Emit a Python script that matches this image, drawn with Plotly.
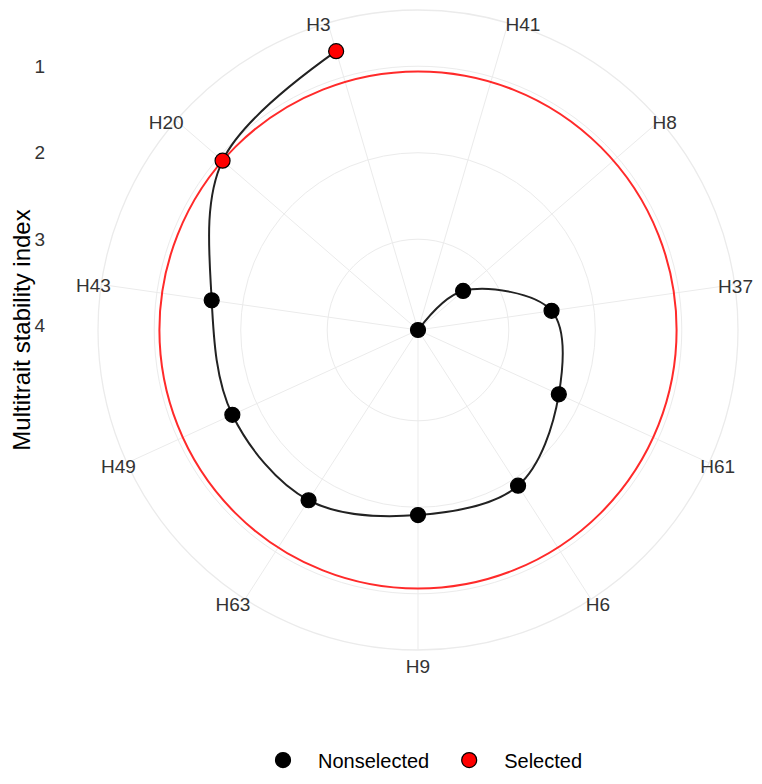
import plotly.graph_objects as go

# genotypes in plotting order (ranked by MTSI, worst first)
genotypes = ["H41", "H8", "H37", "H61", "H6", "H9", "H63", "H49", "H43", "H20", "H3"]
mtsi = [4.05, 3.36, 2.49, 2.26, 1.91, 1.91, 1.71, 1.69, 1.64, 1.06, 0.69]
status = ["Nonselected"] * 9 + ["Selected"] * 2
radial_ticks = [1, 2, 3, 4]

cutpoint = max(v for v, s in zip(mtsi, status) if s == "Selected")
r_range = [4.05, 0.35]

FONT = "Liberation Sans, Arial, sans-serif"
GRID = "#EBEBEB"
TXT = "#333333"

# ggplot centres the genotype labels on the outer ring; plotly anchors them by
# their edge, so the labels are spread over polars of slightly different size
label_sets = {
    "polar": ["H9"],
    "polar3": ["H3", "H41", "H8", "H20", "H6", "H63", "H61", "H49", "H43"],
    "polar4": ["H37"],
}


def masked(names):
    return [g if g in names else "" for g in genotypes]


fig = go.Figure()

# invisible traces so the grid polar and the label polars get drawn
for sp in ["polar", "polar3", "polar4"]:
    fig.add_trace(go.Scatterpolar(
        r=mtsi, theta=genotypes, mode="markers", marker=dict(opacity=0),
        hoverinfo="skip", showlegend=False, subplot=sp))

# path through genotypes
fig.add_trace(go.Scatterpolar(
    r=mtsi, theta=genotypes, mode="lines",
    line=dict(color="#222222", width=2, shape="spline", smoothing=1.0),
    hoverinfo="skip", showlegend=False, subplot="polar2"))

colors = {"Nonselected": "black", "Selected": "#FF0000"}
for grp in ["Nonselected", "Selected"]:
    rr = [v for v, s in zip(mtsi, status) if s == grp]
    tt = [g for g, s in zip(genotypes, status) if s == grp]
    fig.add_trace(go.Scatterpolar(
        r=rr, theta=tt, mode="markers", name=grp,
        marker=dict(size=15, color=colors[grp], line=dict(color="black", width=1.2)),
        subplot="polar2"))

# dummy cartesian trace for the left-hand radial labels / title
fig.add_trace(go.Scatter(x=[None], y=[None], showlegend=False, hoverinfo="skip"))

angular_common = dict(
    type="category", categoryarray=genotypes, direction="clockwise",
    rotation=90 - 180 / len(genotypes), tickmode="array", tickvals=genotypes,
)
hidden_radial = dict(range=r_range, showticklabels=False, showline=False, ticks="")
tickfont = dict(size=19, color=TXT, family=FONT)


def label_polar(inset, names):
    return dict(
        domain=dict(x=[inset, 1 - inset], y=[inset, 1 - inset]),
        bgcolor="rgba(0,0,0,0)",
        radialaxis=dict(**hidden_radial, showgrid=False),
        angularaxis=dict(**angular_common, showline=False, showgrid=False, ticks="",
                         ticktext=masked(names), tickfont=tickfont),
    )


fig.update_layout(
    width=746, height=768,
    margin=dict(l=90, r=16, t=2, b=126, autoexpand=False),
    paper_bgcolor="white", plot_bgcolor="white",
    font=dict(family=FONT, color=TXT),
    polar=dict(
        domain=dict(x=[0, 1], y=[0, 1]),
        bgcolor="white",
        radialaxis=dict(**hidden_radial, tickvals=radial_ticks,
                        gridcolor=GRID, gridwidth=1.3),
        angularaxis=dict(**angular_common, showline=True, linecolor=GRID, linewidth=1.3,
                         gridcolor=GRID, gridwidth=1.3, ticks="",
                         ticktext=masked(label_sets["polar"]), tickfont=tickfont),
    ),
    polar2=dict(
        domain=dict(x=[0, 1], y=[0, 1]),
        bgcolor="rgba(0,0,0,0)",
        radialaxis=dict(**hidden_radial, tickvals=[cutpoint],
                        gridcolor="#FF2A2A", gridwidth=2),
        angularaxis=dict(**angular_common, showline=False, showgrid=False,
                         showticklabels=False, ticks=""),
    ),
    polar3=label_polar(0.016, label_sets["polar3"]),
    polar4=label_polar(0.027, label_sets["polar4"]),
    xaxis=dict(visible=False, range=[0, 1]),
    yaxis=dict(range=[7.75, 0.35], tickvals=radial_ticks, showgrid=False, zeroline=False,
               showline=False, ticks="outside", ticklen=48, tickcolor="rgba(0,0,0,0)",
               automargin=False, tickfont=tickfont,
               title=dict(text="Multitrait stability index", standoff=4,
                          font=dict(size=24, color="black", family=FONT))),
    legend=dict(orientation="h", x=0.5, xanchor="center", y=-0.172, yanchor="middle",
                itemwidth=60, font=dict(size=20, color="black", family=FONT)),
)

fig.write_html("out.html")
